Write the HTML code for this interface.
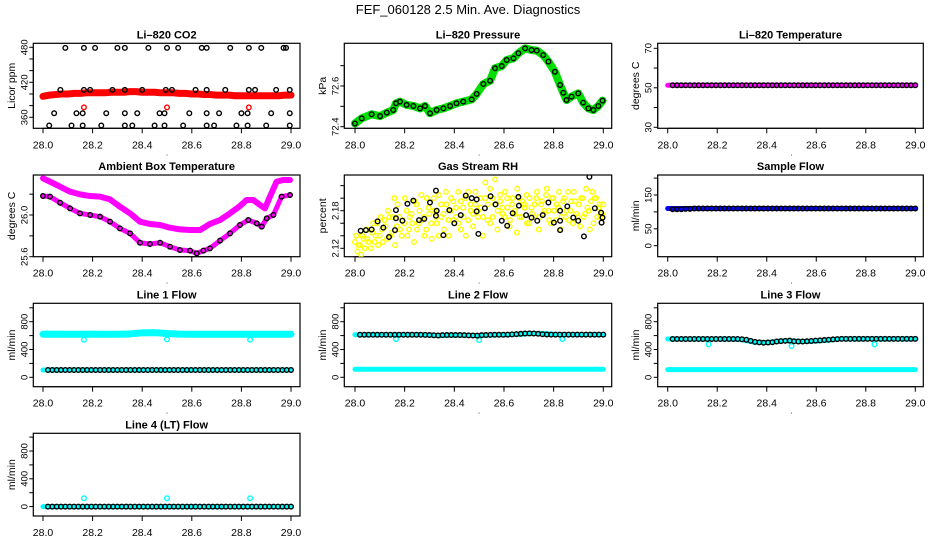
<!DOCTYPE html>
<html><head><meta charset="utf-8"><style>
html,body{margin:0;padding:0;background:#fff;}
svg{display:block;font-family:"Liberation Sans",Arial,sans-serif;}
</style></head><body>
<svg id="fig" width="936" height="540" viewBox="0 0 936 540" xmlns="http://www.w3.org/2000/svg">
<rect width="936" height="540" fill="#fff"/>
<text x="468" y="14" text-anchor="middle" font-size="13">FEF_060128  2.5 Min. Ave. Diagnostics</text>
</svg>
<script>
// ---------- data ----------
const xTicks = [28.0, 28.2, 28.4, 28.6, 28.8, 29.0];
const xTickLabels = ["28.0", "28.2", "28.4", "28.6", "28.8", "29.0"];

// CO2
const co2Red = [396,398,399,400,400,401,401,402,402,402,402,403,403,403,404,404,403,403,403,402,402,402,401,401,400,400,399,399,398,398,398,397,397,397,397,397,397,397,397,398,398];
const co2RedOutT = [28.165, 28.5, 28.83];
const co2RedOutV = [377, 377, 377];
const co2BlackT = [28.09,28.165,28.21,28.30,28.33,28.425,28.50,28.545,28.64,28.66,28.755,28.83,28.88,28.97,28.98,
  28.07,28.165,28.19,28.28,28.33,28.40,28.495,28.52,28.615,28.66,28.735,28.83,28.855,28.94,28.995,
  28.045,28.135,28.16,28.255,28.33,28.38,28.47,28.49,28.59,28.66,28.71,28.80,28.825,28.92,28.995,
  28.025,28.115,28.16,28.235,28.33,28.36,28.45,28.49,28.565,28.66,28.69,28.78,28.825,28.90,28.995];
const co2BlackV = [479,479,479,479,479,479,479,479,479,479,479,479,479,479,479,
  407,407,407,407,407,407,407,407,407,407,407,407,407,407,407,
  367,367,367,367,367,367,367,367,367,367,367,367,367,367,367,
  346,346,346,346,346,346,346,346,346,346,346,346,346,346,346];

// Pressure
const presT = [28.00,28.027,28.067,28.101,28.128,28.154,28.165,28.181,28.208,28.235,28.262,28.282,28.302,28.329,28.356,28.383,28.409,28.436,28.470,28.490,28.517,28.544,28.564,28.591,28.611,28.638,28.658,28.685,28.711,28.732,28.758,28.779,28.805,28.826,28.839,28.852,28.872,28.899,28.919,28.940,28.960,28.980,28.997];
const presV = [72.416,72.441,72.461,72.452,72.469,72.482,72.515,72.523,72.507,72.502,72.490,72.502,72.466,72.482,72.490,72.502,72.515,72.523,72.534,72.561,72.610,72.626,72.687,72.698,72.728,72.736,72.761,72.785,72.777,72.774,72.752,72.720,72.670,72.605,72.567,72.531,72.548,72.564,72.518,72.490,72.482,72.502,72.528];

// Li-820 temperature
const tempMag = [51.3,51.3,51.3,51.3,51.3,51.3,51.3,51.3,51.3,51.3,51.3,51.3,51.3,51.3,51.3,51.3,51.3,51.3,51.3,51.3,51.3];
const tempBlack = [51.3,51.3,51.3,51.3,51.3,51.3,51.3,51.3,51.3,51.3,51.3,51.3,51.3,51.3,51.3,51.3,51.3,51.3,51.3,51.3,51.3,51.3,51.3,51.3,51.3,51.3,51.3,51.3,51.3,51.3,51.3,51.3,51.3,51.3,51.3,51.3,51.3,51.3,51.3,51.3,51.3,51.3,51.3,51.3,51.3,51.3,51.3,51.3,51.3,51.3,51.3,51.3,51.3,51.3,51.3,51.3,51.3];

// Ambient box temperature
const ambUpT = [28.000,28.028,28.069,28.109,28.149,28.190,28.230,28.270,28.310,28.351,28.391,28.431,28.472,28.512,28.552,28.593,28.633,28.673,28.714,28.754,28.794,28.821,28.848,28.875,28.895,28.915,28.942,28.969,28.996];
const ambUpV = [26.352,26.32,26.272,26.224,26.198,26.182,26.176,26.150,26.080,26.016,25.936,25.914,25.904,25.878,25.862,25.856,25.856,25.914,25.952,26.016,26.086,26.144,26.144,26.096,26.064,26.176,26.32,26.336,26.336];
const ambLoT = [28.000,28.028,28.069,28.109,28.149,28.190,28.230,28.270,28.310,28.351,28.391,28.431,28.472,28.512,28.552,28.593,28.620,28.647,28.673,28.714,28.754,28.794,28.828,28.862,28.882,28.902,28.929,28.962,28.996];
const ambLoV = [26.182,26.176,26.118,26.064,26.016,26.0,25.984,25.936,25.872,25.824,25.734,25.722,25.734,25.696,25.664,25.658,25.632,25.658,25.680,25.754,25.824,25.904,25.952,25.920,25.888,25.968,26.0,26.176,26.192];

// Gas stream RH
const rhYellowA = [2.13,2.115,2.125,2.14,2.12,2.135,2.15,2.145,2.13,2.16,2.14,2.15,2.165,2.135,2.17,2.145,2.2,2.155,2.17,2.14,2.16,2.18,2.15,2.175,2.13,2.19,2.16,2.205,2.17,2.15,2.185,2.16,2.2,2.17,2.14,2.19,2.175,2.21,2.165,2.18,2.195,2.17,2.21,2.15,2.185,2.2,2.165,2.19,2.175,2.21,2.18,2.2,2.17,2.225,2.19,2.16,2.2,2.23,2.18,2.195,2.175,2.21,2.185,2.165,2.2,2.18,2.215,2.17,2.195,2.185,2.16,2.2,2.175,2.19,2.21,2.17,2.195,2.18,2.215,2.165,2.2,2.18,2.19,2.21,2.17,2.2,2.18,2.165,2.195,2.21,2.175,2.19,2.2,2.17,2.215,2.18,2.195,2.16,2.2,2.185,2.17,2.19];
const rhYellowB = [2.14,2.125,2.11,2.135,2.15,2.13,2.12,2.16,2.14,2.125,2.17,2.13,2.155,2.18,2.14,2.17,2.125,2.19,2.15,2.165,2.2,2.14,2.17,2.16,2.195,2.15,2.18,2.165,2.14,2.2,2.175,2.135,2.18,2.16,2.205,2.17,2.15,2.19,2.14,2.2,2.165,2.185,2.16,2.195,2.17,2.14,2.21,2.18,2.155,2.19,2.17,2.185,2.14,2.2,2.165,2.215,2.17,2.19,2.15,2.205,2.185,2.17,2.2,2.155,2.19,2.175,2.145,2.2,2.17,2.19,2.205,2.16,2.185,2.17,2.2,2.15,2.19,2.175,2.205,2.18,2.16,2.2,2.165,2.185,2.15,2.195,2.17,2.21,2.18,2.16,2.195,2.17,2.155,2.2,2.175,2.185,2.15,2.21,2.2,2.17,2.19,2.175];
const rhBlackT = [28.023,28.044,28.067,28.091,28.114,28.137,28.161,28.165,28.165,28.191,28.211,28.235,28.258,28.279,28.302,28.326,28.326,28.329,28.356,28.380,28.400,28.426,28.446,28.470,28.490,28.490,28.497,28.523,28.546,28.566,28.591,28.613,28.635,28.658,28.660,28.689,28.711,28.734,28.756,28.779,28.801,28.826,28.826,28.826,28.855,28.879,28.899,28.922,28.944,28.966,28.991,28.993,28.997];
const rhBlackV = [2.148,2.149,2.150,2.163,2.153,2.138,2.149,2.168,2.181,2.164,2.191,2.196,2.165,2.167,2.193,2.212,2.172,2.180,2.141,2.181,2.160,2.173,2.204,2.200,2.198,2.179,2.143,2.184,2.203,2.190,2.164,2.156,2.176,2.202,2.188,2.173,2.169,2.164,2.173,2.193,2.161,2.164,2.149,2.180,2.187,2.169,2.164,2.139,2.234,2.184,2.177,2.161,2.169];

// Sample flow
const sampleBlue = [110,110,110,110,110,110,110,110,110,110,110,110,110,110,110,110,110,110,110,110,110];
const sampleBlack = [108,108,108,109,109,110,110,110,110,110,110,110,110,110,110,110,110,110,110,110,110,110,110,110,110,110,110,110,110,110,110,110,110,110,110,110,110,110,110,110,110,110,110,110,110,110,110,110,110,110,110,110,110,110,110,110,110];

// Line flows
const outT = [28.165, 28.5, 28.835];
const line1CyanTop = [620,622,620,620,622,620,620,624,640,642,630,622,620,620,620,620,620,620,620,620,620];
const line1CyanBot = [105,105,105,105,105,105,105,105,105,105,105,105,105,105,105,105,105,105,105,105,105];
const line1Out = [540,545,540];
const line1Black = [105,105,105,105,105,105,105,105,105,105,105,105,105,105,105,105,105,105,105,105,105,105,105,105,105,105,105,105,105,105,105,105,105,105,105,105,105,105,105,105,105,105,105,105,105,105,105,105,105,105,105,105,105,105,105,105,105];
const line2CyanTop = [612,612,612,612,612,612,608,600,606,604,600,608,612,614,626,632,620,614,614,614,614];
const line2CyanBot = [115,115,115,115,115,115,115,115,115,115,115,115,115,115,115,115,115,115,115,115,115];
const line2Out = [550,535,550];
const line2Black = [612,612,612,612,612,612,612,612,612,612,612,612,612,612,612,610,608,605,602,606,608,608,608,608,606,604,602,600,606,608,610,612,612,612,614,618,622,626,630,632,630,626,620,616,614,614,614,614,614,614,614,614,614,614,614,614,614];
const line3CyanTop = [551,551,551,551,551,551,540,505,500,520,525,515,520,535,553,553,553,553,553,553,553];
const line3CyanBot = [110,110,110,110,110,110,110,110,110,110,110,110,110,110,110,110,110,110,110,110,110];
const line3Out = [474,450,474];
const line3Black = [551,551,551,551,551,551,551,551,551,551,551,551,551,551,551,551,548,540,525,510,502,498,500,505,515,520,525,527,518,515,515,518,522,528,532,536,540,545,550,553,553,553,553,553,553,553,553,553,553,553,553,553,553,553,553,553,553];
const line4Cyan = [0,0,0,0,0,0,0,0,0,0,0,0,0,0,0,0,0,0,0,0,0];
const line4Out = [120,120,120];
const line4Black = [0,0,0,0,0,0,0,0,0,0,0,0,0,0,0,0,0,0,0,0,0,0,0,0,0,0,0,0,0,0,0,0,0,0,0,0,0,0,0,0,0,0,0,0,0,0,0,0,0,0,0,0,0,0,0,0,0];

// ---------- drawing ----------
const NS = "http://www.w3.org/2000/svg";
const svg = document.getElementById("fig");
const cols = [{L:33.3,R:300,x0:43,x1:291,lab:12},{L:344.3,R:611.7,x0:355,x1:603.3,lab:323},{L:657.7,R:923.3,x0:667.7,x1:915.3,lab:636}];
const rows = [{T:43.3,B:128.3},{T:175,B:256.7},{T:303.3,B:386.7},{T:433.3,B:516}];

function mk(tag, attrs, parent) {
  const e = document.createElementNS(NS, tag);
  for (const k in attrs) e.setAttribute(k, attrs[k]);
  (parent || svg).appendChild(e);
  return e;
}

function panel(ci, ri, title, ylab, vA, pA, vB, pB, yTicks, yLabelVals, yLabelTxt, name) {
  const c = cols[ci], r = rows[ri];
  const g = mk("g", {});
  
  
  const sx = t => c.x0 + (t - 28) * (c.x1 - c.x0);
  const pa = r.B - pA, pb = r.B - pB;
  const sy = v => pa + (v - vA) * (pb - pa) / (vB - vA);
  const box = mk("rect", {x:c.L, y:r.T, width:c.R-c.L, height:r.B-r.T, fill:"none", stroke:"#000", "stroke-width":1.2}, g);
  
  
  const tt = mk("text", {x:(c.L+c.R)/2, y:r.T-5, "text-anchor":"middle", "font-size":"11", "font-weight":"bold"}, g);
  tt.textContent = title;
  
  
  const xa = mk("g", {}, g);
  
  
  mk("line", {x1:sx(xTicks[0]), x2:sx(xTicks[xTicks.length-1]), y1:r.B, y2:r.B, stroke:"#000"}, xa);
  xTicks.forEach((t, i) => {
    mk("line", {x1:sx(t), x2:sx(t), y1:r.B, y2:r.B+5, stroke:"#000"}, xa);
    const lb = mk("text", {x:sx(t), y:r.B+20, "text-anchor":"middle", "font-size":"10.5"}, xa);
    lb.textContent = xTickLabels[i];
    
    
  });
  const dot = mk("text", {x:(c.x0+c.x1)/2, y:r.B+27, "text-anchor":"middle", "font-size":"8"}, xa);
  dot.textContent = ".";
  const ya = mk("g", {}, g);
  
  
  mk("line", {x1:c.L, x2:c.L, y1:sy(yTicks[0]), y2:sy(yTicks[yTicks.length-1]), stroke:"#000"}, ya);
  yTicks.forEach(v => {
    mk("line", {x1:c.L-4, x2:c.L, y1:sy(v), y2:sy(v), stroke:"#000"}, ya);
  });
  yLabelVals.forEach((v, i) => {
    const lb = mk("text", {x:0, y:0, "text-anchor":"middle", "font-size":"9.5", transform:`translate(${c.L-6},${sy(v)}) rotate(-90)`}, ya);
    lb.textContent = yLabelTxt[i];
    
    
  });
  const yt = mk("text", {x:0, y:0, "text-anchor":"middle", "font-size":"10.5", transform:`translate(${c.lab+3},${(r.T+r.B)/2}) rotate(-90)`}, ya);
  yt.textContent = ylab;
  
  
  const clip = "clip-" + name;
  const cp = mk("clipPath", {id:clip}, g);
  mk("rect", {x:c.L, y:r.T, width:c.R-c.L, height:r.B-r.T}, cp);
  const marks = mk("g", {"clip-path":`url(#${clip})`}, g);
  return {sx, sy, g:marks};
}

function band(p, ts, vs, color, w, name) {
  const pts = vs.map((v, i) => p.sx(ts(i, vs.length)) + "," + p.sy(v)).join(" ");
  const pl = mk("polyline", {points:pts, fill:"none", stroke:color, "stroke-width":w, "stroke-linejoin":"round", "stroke-linecap":"round"}, p.g);
  
  
}
function bandTV(p, ts, vs, color, w, name) {
  const pts = vs.map((v, i) => p.sx(ts[i]) + "," + p.sy(v)).join(" ");
  const pl = mk("polyline", {points:pts, fill:"none", stroke:color, "stroke-width":w, "stroke-linejoin":"round", "stroke-linecap":"round"}, p.g);
  
  
}
function pts(p, ts, vs, color, name, r, sw) {
  vs.forEach((v, i) => {
    const t = typeof ts === "function" ? ts(i, vs.length) : ts[i];
    const ci = mk("circle", {cx:p.sx(t), cy:p.sy(v), r:r||2.3, fill:"none", stroke:color, "stroke-width":sw||1.4}, p.g);
    
    
  });
}
const full = (i, n) => 28 + i / (n - 1);
const blk = (i, n) => 28.02 + i * 0.98 / (n - 1);
const yl = (i, n) => 28 + i / (n - 1);
const yl2 = (i, n) => 28.005 + i * 0.99 / (n - 1);

let p = panel(0, 0, "Li\u2013820 CO2", "Licor ppm", 360, 11, 480, 81, [360,380,400,420,440,460,480], [360,420,480], ["360","420","480"], "co2-panel");
band(p, full, co2Red, "#ff0000", 7, "co2-red-band");
pts(p, co2RedOutT, co2RedOutV, "#ff0000", "co2-red-point");
pts(p, co2BlackT, co2BlackV, "#000", "co2-black-point");

p = panel(1, 0, "Li\u2013820 Pressure", "kPa", 72.4, 1.6, 72.6, 42.3, [72.4,72.5,72.6,72.7], [72.4,72.6], ["72.4","72.6"], "pressure-panel");
bandTV(p, presT, presV, "#00dd00", 8, "pressure-green-band");
pts(p, presT, presV, "#000", "pressure-black-point");

p = panel(2, 0, "Li\u2013820 Temperature", "degrees C", 30, 1, 70, 80, [30,40,50,60,70], [30,50,70], ["30","50","70"], "li820-temp-panel");
band(p, full, tempMag, "#ff00ff", 5, "temp-magenta-band");
pts(p, blk, tempBlack, "#000", "temp-black-point");

p = panel(0, 1, "Ambient Box Temperature", "degrees C", 25.6, 0, 26.0, 41.7, [25.6,25.8,26.0,26.2], [25.6,26.0], ["25.6","26.0"], "ambient-temp-panel");
bandTV(p, ambUpT, ambUpV, "#ff00ff", 6, "ambient-upper-band");
bandTV(p, ambLoT, ambLoV, "#ff00ff", 5, "ambient-lower-band");
pts(p, ambLoT, ambLoV, "#000", "ambient-black-point");

p = panel(1, 1, "Gas Stream RH", "percent", 2.12, 8.4, 2.18, 46, [2.12,2.14,2.16,2.18,2.20,2.22], [2.12,2.18], ["2.12","2.18"], "rh-panel");
pts(p, yl, rhYellowA, "#ffff00", "rh-yellow-point");
pts(p, yl2, rhYellowB, "#ffff00", "rh-yellow-point");
pts(p, rhBlackT, rhBlackV, "#000", "rh-black-point");

p = panel(2, 1, "Sample Flow", "ml/min", 0, 11, 150, 61.7, [0,50,100,150,200], [0,50,150], ["0","50","150"], "sample-flow-panel");
band(p, full, sampleBlue, "#0000ff", 5, "sample-blue-band");
pts(p, blk, sampleBlack, "#000", "sample-black-point");

const fT = [0,200,400,600,800,1000], fL = [0,400,800], fLT = ["0","400","800"];
p = panel(0, 2, "Line 1 Flow", "ml/min", 0, 9.4, 800, 65, fT, fL, fLT, "line1-panel");
band(p, full, line1CyanTop, "#00ffff", 7, "line1-cyan-top");
band(p, full, line1CyanBot, "#00ffff", 5, "line1-cyan-bottom");
pts(p, outT, line1Out, "#00ffff", "line1-cyan-outlier");
pts(p, blk, line1Black, "#000", "line1-black-point");

p = panel(1, 2, "Line 2 Flow", "ml/min", 0, 9.4, 800, 65, fT, fL, fLT, "line2-panel");
band(p, full, line2CyanTop, "#00ffff", 5, "line2-cyan-top");
band(p, full, line2CyanBot, "#00ffff", 5, "line2-cyan-bottom");
pts(p, outT, line2Out, "#00ffff", "line2-cyan-outlier");
pts(p, blk, line2Black, "#000", "line2-black-point");

p = panel(2, 2, "Line 3 Flow", "ml/min", 0, 9.4, 800, 65, fT, fL, fLT, "line3-panel");
band(p, full, line3CyanTop, "#00ffff", 5, "line3-cyan-top");
band(p, full, line3CyanBot, "#00ffff", 5, "line3-cyan-bottom");
pts(p, outT, line3Out, "#00ffff", "line3-cyan-outlier");
pts(p, blk, line3Black, "#000", "line3-black-point");

p = panel(0, 3, "Line 4 (LT) Flow", "ml/min", 0, 9.4, 800, 65, fT, fL, fLT, "line4-panel");
band(p, full, line4Cyan, "#00ffff", 5, "line4-cyan-band");
pts(p, outT, line4Out, "#00ffff", "line4-cyan-outlier");
pts(p, blk, line4Black, "#000", "line4-black-point");
</script>
</body></html>
